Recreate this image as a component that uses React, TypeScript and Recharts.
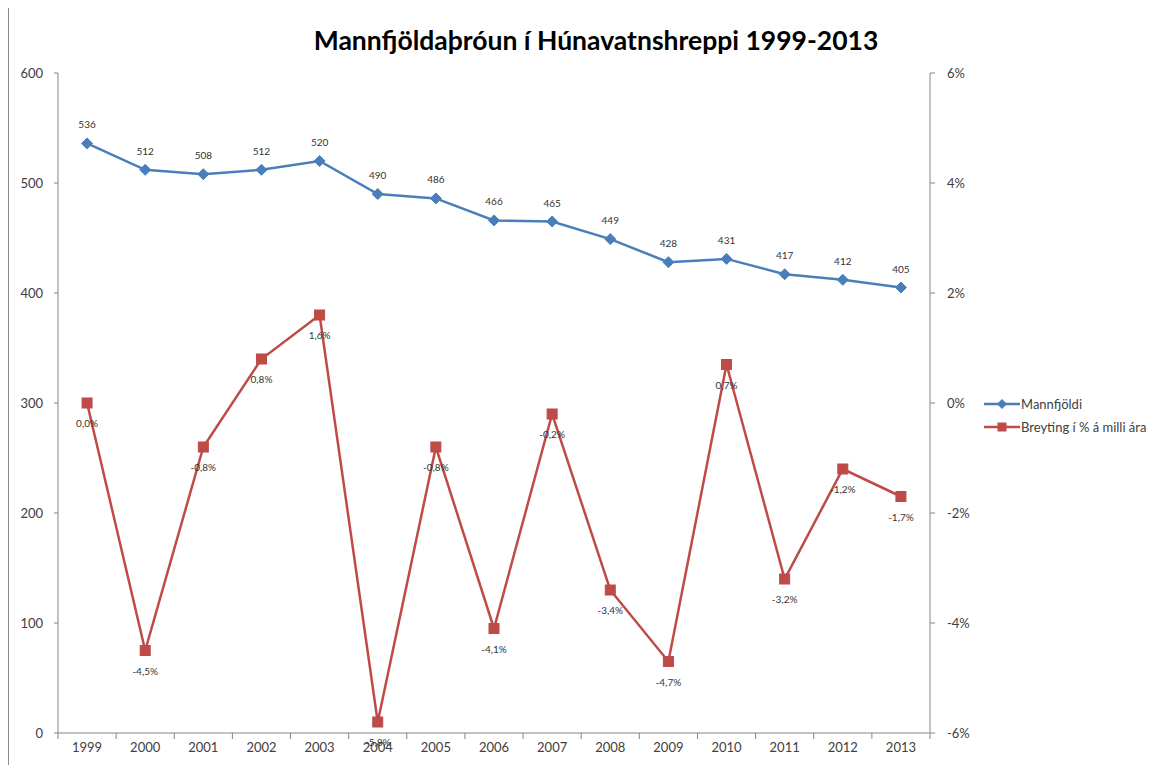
import React from 'react';
import { ComposedChart, Line, XAxis, YAxis, Legend, LabelList } from 'recharts';

const years = ['1999', '2000', '2001', '2002', '2003', '2004', '2005', '2006', '2007', '2008', '2009', '2010', '2011', '2012', '2013'];
const population = [536, 512, 508, 512, 520, 490, 486, 466, 465, 449, 428, 431, 417, 412, 405];
const changePct = [0.0, -4.5, -0.8, 0.8, 1.6, -5.8, -0.8, -4.1, -0.2, -3.4, -4.7, 0.7, -3.2, -1.2, -1.7];
const leftTicks = [0, 100, 200, 300, 400, 500, 600];
const rightTicks = [-6, -4, -2, 0, 2, 4, 6];

const fmtPct = (v: number) => `${v.toFixed(1).replace('.', ',')}%`;

const data = years.map((year, i) => ({
  year,
  pop: population[i],
  change: changePct[i],
  changeLabel: fmtPct(changePct[i]),
}));

const W = 1164;
const H = 758;
const LEFT_AXIS_W = 49;
const RIGHT_AXIS_W = 50;
const MARGIN = { top: 66, right: 193, bottom: 2, left: 0 };
const BAND = (W - LEFT_AXIS_W - RIGHT_AXIS_W - MARGIN.left - MARGIN.right) / years.length;

const BLUE = '#4A7EBB';
const RED = '#BE4B48';
const AXIS = '#868686';
const TEXT = '#404040';
const LABEL = '#333333';
const FONT = 'Lato, "Open Sans", sans-serif';

const Diamond = (props: any) => {
  const { cx, cy, key } = props;
  if (cx == null || cy == null) return null;
  const r = 5.5;
  return (
    <polygon
      key={key}
      points={`${cx},${cy - r} ${cx + r},${cy} ${cx},${cy + r} ${cx - r},${cy}`}
      fill={BLUE}
      stroke={BLUE}
      strokeWidth={1}
    />
  );
};

const Square = (props: any) => {
  const { cx, cy, key } = props;
  if (cx == null || cy == null) return null;
  const s = 10;
  return <rect key={key} x={cx - s / 2} y={cy - s / 2} width={s} height={s} fill={RED} stroke={RED} />;
};

const YearTick = (props: any) => {
  const { x, y, payload, index } = props;
  const axisY = y - 8;
  return (
    <g>
      <line x1={x - BAND / 2} x2={x - BAND / 2} y1={axisY} y2={axisY + 6} stroke={AXIS} />
      {index === years.length - 1 && (
        <line x1={x + BAND / 2} x2={x + BAND / 2} y1={axisY} y2={axisY + 6} stroke={AXIS} />
      )}
      <text x={x} y={y + 2} dy="0.71em" textAnchor="middle" fill={TEXT} fontSize={13} fontFamily={FONT}>
        {payload.value}
      </text>
    </g>
  );
};

const LegendContent = (props: any) => {
  const items = [...(props.payload || [])].sort((a: any, b: any) =>
    a.dataKey === 'pop' ? -1 : b.dataKey === 'pop' ? 1 : 0
  );
  return (
    <div style={{ fontFamily: FONT, fontSize: 13, color: TEXT }}>
      {items.map((item: any) => {
        const isPop = item.dataKey === 'pop';
        return (
          <div key={item.value} style={{ display: 'flex', alignItems: 'center', height: 23, whiteSpace: 'nowrap' }}>
            <svg width={36} height={12} style={{ marginRight: 1 }}>
              <line x1={0} x2={36} y1={6} y2={6} stroke={item.color} strokeWidth={2.5} />
              {isPop ? (
                <polygon points="18,1 23,6 18,11 13,6" fill={item.color} />
              ) : (
                <rect x={13.5} y={1.5} width={9} height={9} fill={item.color} />
              )}
            </svg>
            <span>{item.value}</span>
          </div>
        );
      })}
    </div>
  );
};

export default function App() {
  return (
    <div
      style={{
        position: 'relative',
        marginTop: -2,
        width: W + 1,
        height: H + 1,
        borderTop: '1px solid #8c8c8c',
        borderLeft: '1px solid #8c8c8c',
        boxSizing: 'border-box',
        fontFamily: FONT,
        background: '#fff',
      }}
    >
      <div
        style={{
          position: 'absolute',
          left: 587,
          top: 18,
          transform: 'translateX(-50%)',
          whiteSpace: 'nowrap',
          fontSize: 26.5,
          fontWeight: 700,
          lineHeight: '30px',
          color: '#000',
        }}
      >
        Mannfjöldaþróun í Húnavatnshreppi 1999-2013
      </div>
      <ComposedChart width={W} height={H} data={data} margin={MARGIN}>
        <XAxis
          dataKey="year"
          scale="band"
          axisLine={{ stroke: AXIS }}
          tickLine={false}
          tickSize={0}
          tickMargin={8}
          height={30}
          interval={0}
          tick={<YearTick />}
        />
        <YAxis
          yAxisId="left"
          domain={[0, 600]}
          ticks={leftTicks}
          width={LEFT_AXIS_W}
          axisLine={{ stroke: AXIS }}
          tickLine={{ stroke: AXIS }}
          tickSize={4}
          tickMargin={11}
          tick={{ fill: TEXT, fontSize: 13, fontFamily: FONT }}
        />
        <YAxis
          yAxisId="right"
          orientation="right"
          domain={[-6, 6]}
          ticks={rightTicks}
          width={RIGHT_AXIS_W}
          axisLine={{ stroke: AXIS }}
          tickLine={{ stroke: AXIS }}
          tickSize={5}
          tickMargin={12}
          tickFormatter={(v: number) => `${v}%`}
          tick={{ fill: TEXT, fontSize: 13, fontFamily: FONT }}
        />
        <Legend
          layout="horizontal"
          verticalAlign="middle"
          align="center"
          content={<LegendContent />}
          wrapperStyle={{ left: 975, top: 385, width: 190 }}
        />
        <Line
          yAxisId="left"
          dataKey="pop"
          name="Mannfjöldi"
          stroke={BLUE}
          strokeWidth={2.5}
          dot={Diamond}
          activeDot={false}
          isAnimationActive={false}
        >
          <LabelList dataKey="pop" position="top" offset={15} fill={LABEL} stroke="none" fontSize={10} fontFamily={FONT} />
        </Line>
        <Line
          yAxisId="right"
          dataKey="change"
          name="Breyting í % á milli ára"
          stroke={RED}
          strokeWidth={2.5}
          dot={Square}
          activeDot={false}
          isAnimationActive={false}
        >
          <LabelList dataKey="changeLabel" position="bottom" offset={17} fill={LABEL} stroke="none" fontSize={10} fontFamily={FONT} />
        </Line>
      </ComposedChart>
    </div>
  );
}
